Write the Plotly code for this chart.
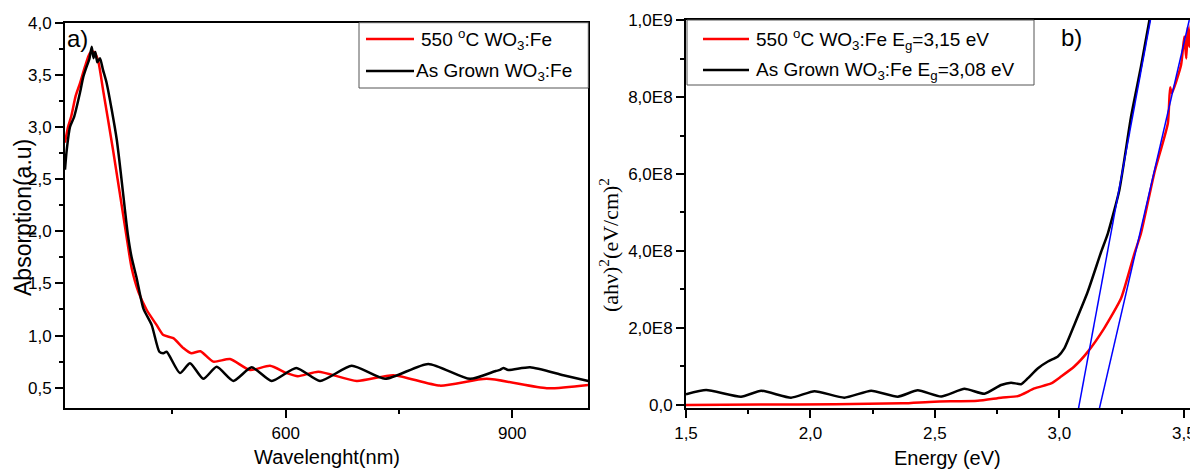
import plotly.graph_objects as go

# ---------------- data ----------------
series_names = ["550 <sup>o</sup>C WO<sub>3</sub>:Fe", "As Grown WO<sub>3</sub>:Fe"]
gap_labels = ["E<sub>g</sub>=3,15 eV", "E<sub>g</sub>=3,08 eV"]

# panel a: absorption vs wavelength
wl_550 = [307.8, 311.8, 316.0, 322.0, 327.7, 334.3, 340.9, 346.2, 351.5, 358.1, 371.4, 388.6,
          396.1, 404.9, 416.0, 429.2, 438.0, 451.2, 464.4, 475.0, 487.0, 504.1, 526.3, 552.7,
          579.2, 601.3, 616.0, 643.2, 694.0, 742.5, 804.3, 866.0, 945.5, 1000.6]
abs_550 = [2.85, 3.00, 3.10, 3.30, 3.42, 3.58, 3.71, 3.72, 3.64, 3.36, 2.78, 1.98,
           1.645, 1.42, 1.245, 1.10, 1.005, 0.975, 0.88, 0.83, 0.85, 0.75, 0.775, 0.67,
           0.71, 0.64, 0.61, 0.654, 0.565, 0.62, 0.52, 0.585, 0.495, 0.527]

wl_ag = [307.8, 310.1, 314.4, 320.0, 327.7, 332.0, 336.5, 340.0, 343.2, 345.5, 348.0, 350.5,
         354.1, 358.0, 363.0, 376.3, 391.0, 396.0, 402.7, 411.5, 422.6, 432.7, 438.0, 442.4,
         460.0, 473.3, 490.9, 508.6, 530.6, 555.0, 581.4, 614.0, 645.4, 687.4, 731.5, 788.8,
         844.0, 878.0, 883.7, 888.1, 894.7, 923.5, 967.5, 1000.6]
abs_ag = [2.59, 2.78, 3.00, 3.10, 3.33, 3.48, 3.58, 3.65, 3.77, 3.66, 3.72, 3.62,
          3.66, 3.55, 3.42, 2.88, 1.97, 1.75, 1.55, 1.26, 1.10, 0.845, 0.83, 0.845,
          0.64, 0.735, 0.585, 0.70, 0.565, 0.695, 0.565, 0.69, 0.565, 0.71, 0.585, 0.728,
          0.585, 0.66, 0.67, 0.69, 0.67, 0.696, 0.62, 0.565]

# panel b: Tauc plot
E_550 = [1.5, 1.8, 2.1, 2.37, 2.498, 2.672, 2.766, 2.833, 2.9, 2.967, 3.007, 3.06, 3.114,
         3.18, 3.248, 3.30, 3.328, 3.382, 3.436, 3.445, 3.452, 3.489, 3.502, 3.51, 3.516,
         3.522, 3.528, 3.534, 3.54, 3.546, 3.552, 3.557]
ahv_550 = [0, 1e6, 2e6, 4.3e6, 8.7e6, 1.1e7, 1.9e7, 2.3e7, 4.3e7, 5.6e7, 7.4e7, 1.0e8, 1.38e8,
           1.99e8, 2.77e8, 3.9e8, 4.46e8, 6.04e8, 7.32e8, 8.25e8, 8.1e8, 8.83e8, 9.57e8, 9.0e8,
           9.82e8, 9.3e8, 9.9e8, 9.2e8, 9.75e8, 9.35e8, 9.85e8, 9.5e8]

E_ag = [1.5, 1.581, 1.721, 1.802, 1.922, 2.016, 2.136, 2.244, 2.351, 2.431, 2.525, 2.619,
        2.699, 2.766, 2.806, 2.846, 2.873, 2.913, 2.954, 2.994, 3.02, 3.06, 3.114, 3.168,
        3.195, 3.241, 3.288, 3.328, 3.362, 3.40]
ahv_ag = [2.8e7, 3.9e7, 2.16e7, 3.7e7, 1.9e7, 3.6e7, 1.9e7, 3.7e7, 2.16e7, 3.8e7, 2.2e7, 4.2e7,
          2.9e7, 5.2e7, 5.8e7, 5.4e7, 6.9e7, 9.5e7, 1.13e8, 1.26e8, 1.47e8, 2.08e8, 2.94e8, 3.98e8,
          4.46e8, 5.58e8, 7.49e8, 8.79e8, 1.0e9, 1.12e9]

# linear fits (band-gap extrapolation)
fit_550_E = [3.161, 3.522]
fit_550_y = [-8.6e6, 1.0e9]
fit_ag_E = [3.077, 3.366]
fit_ag_y = [-8.6e6, 1.0e9]

tauc_ticks = [0, 2e8, 4e8, 6e8, 8e8, 1e9]
tauc_ticktext = ["0,0", "2,0E8", "4,0E8", "6,0E8", "8,0E8", "1,0E9"]

# ---------------- figure ----------------
# the page body adds an 8 px margin, so the figure is 8 px smaller and
# all layout positions (measured on the 1198x470 window) are shifted by 8 px
OFF = 8
W, H = 1198 - OFF, 470 - OFF
def px(x):
    return (x - OFF) / W
def py(y):
    return 1 - (y - OFF) / H

RED = "#ff0000"
BLACK = "#000000"
BLUE = "#0000ff"
SANS = "Liberation Sans, Arial, sans-serif"
SERIF = "Liberation Serif, Times New Roman, serif"

fig = go.Figure()
fig.add_trace(go.Scatter(x=wl_550, y=abs_550, mode="lines", name=series_names[0],
                         line=dict(color=RED, width=2.5, shape="spline", smoothing=0.6),
                         xaxis="x", yaxis="y", showlegend=False))
fig.add_trace(go.Scatter(x=wl_ag, y=abs_ag, mode="lines", name=series_names[1],
                         line=dict(color=BLACK, width=2.5, shape="spline", smoothing=0.6),
                         xaxis="x", yaxis="y", showlegend=False))
fig.add_trace(go.Scatter(x=E_550, y=ahv_550, mode="lines", name=series_names[0],
                         line=dict(color=RED, width=2.5, shape="spline", smoothing=0.5),
                         xaxis="x2", yaxis="y2", showlegend=False))
fig.add_trace(go.Scatter(x=E_ag, y=ahv_ag, mode="lines", name=series_names[1],
                         line=dict(color=BLACK, width=2.5, shape="spline", smoothing=0.5),
                         xaxis="x2", yaxis="y2", showlegend=False))
fig.add_trace(go.Scatter(x=fit_550_E, y=fit_550_y, mode="lines",
                         line=dict(color=BLUE, width=1.5), xaxis="x2", yaxis="y2", showlegend=False))
fig.add_trace(go.Scatter(x=fit_ag_E, y=fit_ag_y, mode="lines",
                         line=dict(color=BLUE, width=1.5), xaxis="x2", yaxis="y2", showlegend=False))

tickfont = dict(family=SANS, size=17, color="black")
axis_common = dict(showline=True, linecolor="black", linewidth=2, ticks="outside",
                   ticklen=8, tickwidth=1.5, tickcolor="black", showgrid=False,
                   zeroline=False, tickfont=tickfont, automargin=False)
minor_common = dict(ticklen=4, ticks="outside", tickcolor="black", tickwidth=1.5)

fig.update_layout(
    width=W, height=H, autosize=False,
    margin=dict(l=0, r=0, t=0, b=0, pad=0, autoexpand=False),
    paper_bgcolor="white", plot_bgcolor="white",
    separators=", ",
    xaxis=dict(domain=[px(65), px(588.3)], range=[307.8, 1000.6], tick0=0, dtick=300,
               mirror=True, anchor="y", minor=dict(tick0=0, dtick=150, **minor_common),
               **axis_common),
    yaxis=dict(domain=[py(408.3), py(22.7)], range=[0.3025, 4.0], tick0=0, dtick=0.5,
               tickformat=".1f", mirror=True, anchor="x",
               minor=dict(tick0=0, dtick=0.25, **minor_common), **axis_common),
    xaxis2=dict(domain=[px(686), 1.0], range=[1.5, 1.5 + (1198 - 686) / 248.9], tick0=0, dtick=0.5,
                tickformat=".1f", mirror=True, anchor="y2",
                minor=dict(tick0=0, dtick=0.25, **minor_common), **axis_common),
    yaxis2=dict(domain=[py(408.3), py(20)], range=[-8.6e6, 1.0e9], tickmode="array",
                tickvals=tauc_ticks, ticktext=tauc_ticktext, mirror=False, anchor="x2",
                minor=dict(tickmode="array", tickvals=[1e8, 3e8, 5e8, 7e8, 9e8], **minor_common),
                **axis_common),
)

ann = []
shapes = []
# axis titles
ann.append(dict(text="Absorption(a.u)", x=px(23), y=py(218), textangle=-90,
                font=dict(family=SANS, size=23, color="black")))
ann.append(dict(text="Wavelenght(nm)", x=px(327), y=py(457),
                font=dict(family=SANS, size=20, color="black")))
ann.append(dict(text="Energy (eV)", x=px(947), y=py(458),
                font=dict(family=SANS, size=20, color="black")))
ann.append(dict(text="(ahν)<sup>2</sup>(eV/cm)<sup>2</sup>", x=px(609), y=py(245), textangle=-90,
                font=dict(family=SERIF, size=22, color="black")))
# panel labels
ann.append(dict(text="a)", x=px(77), y=py(38), font=dict(family=SANS, size=24, color="black")))
ann.append(dict(text="b)", x=px(1071), y=py(37), font=dict(family=SANS, size=24, color="black")))

# legend a
shapes.append(dict(type="rect", xref="paper", yref="paper", x0=px(359), x1=px(588.3),
                   y0=py(88), y1=py(22.7), line=dict(color="#555555", width=1), fillcolor="white"))
leg_a_rows = [(39, RED, 419), (71, BLACK, 414)]
for (yy, col, tx), name in zip(leg_a_rows, series_names):
    shapes.append(dict(type="line", xref="paper", yref="paper", x0=px(366), x1=px(414),
                       y0=py(yy), y1=py(yy), line=dict(color=col, width=2.5)))
    ann.append(dict(text=name, x=px(tx), y=py(yy + 1), xanchor="left",
                    font=dict(family=SANS, size=19, color="black")))

# legend b
shapes.append(dict(type="rect", xref="paper", yref="paper", x0=px(687), x1=px(1034),
                   y0=py(85), y1=py(20), line=dict(color="#555555", width=1), fillcolor="white"))
leg_b_rows = [(39, RED), (70, BLACK)]
for (yy, col), name, gl in zip(leg_b_rows, series_names, gap_labels):
    shapes.append(dict(type="line", xref="paper", yref="paper", x0=px(703), x1=px(749),
                       y0=py(yy), y1=py(yy), line=dict(color=col, width=2.5)))
    ann.append(dict(text=name + " " + gl, x=px(754), y=py(yy + 1), xanchor="left",
                    font=dict(family=SANS, size=19, color="black")))

for a in ann:
    a.setdefault("xref", "paper")
    a.setdefault("yref", "paper")
    a.setdefault("showarrow", False)
    a.setdefault("xanchor", "center")
    a.setdefault("yanchor", "middle")
fig.update_layout(annotations=ann, shapes=shapes)

fig.write_html("out.html")
